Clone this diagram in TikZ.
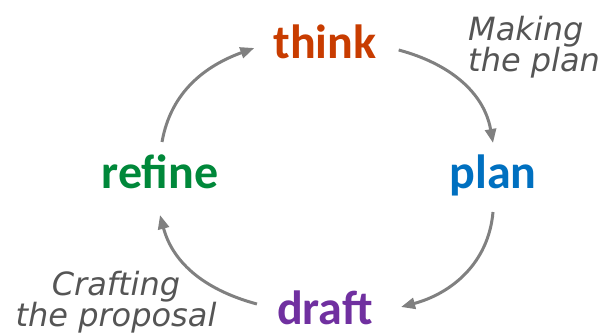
\documentclass[tikz,border=0pt]{standalone}
\usepackage{fontspec}
\setmainfont{Carlito}
\newfontfamily\notefont{DejaVu Sans}
\usetikzlibrary{arrows.meta}
\definecolor{thinkc}{HTML}{C83C00}
\definecolor{planc}{HTML}{0070C0}
\definecolor{draftc}{HTML}{7030A0}
\definecolor{refinec}{HTML}{00883A}
\definecolor{notec}{HTML}{555555}
\definecolor{cycc}{HTML}{808080}
\newcommand\tightlines{\lineskiplimit-100pt\relax}
\tikzset{
  stage/.style = {font=\fontsize{48}{48}\selectfont\bfseries, inner sep=0pt, anchor=base, text depth=0pt},
  note/.style = {font=\fontsize{32}{31}\selectfont\notefont\itshape\tightlines, text=notec, inner sep=0pt},
  cyc/.style = {draw=cycc, line width=3pt, -{Triangle[length=14pt,width=11pt]}},
}
\begin{document}
\begin{tikzpicture}[x=1pt,y=1pt]
\useasboundingbox (0,0) rectangle (609,335);
\node[stage,text=thinkc] (think) at (325,276) {think};
\node[stage,text=planc] (plan) at (493,147) {plan};
\node[stage,text=draftc] (draft) at (325,11) {draft};
\node[stage,text=refinec] (refine) at (160,147) {refine};
\node[note,align=left,anchor=north west] (making) at (468,319) {Making\\the plan};
\node[note,align=center,anchor=north] (crafting) at (116,64) {Crafting\\the proposal};
\draw[cyc] ([shift={(2pt,46pt)}]refine.base) to[out=80,in=200] ([shift={(-19pt,11pt)}]think.base west);
\draw[cyc] ([shift={(22pt,9pt)}]think.base east) to[out=-15,in=100] ([shift={(0pt,45pt)}]plan.base);
\draw[cyc] ([shift={(0pt,-24pt)}]plan.base) to[out=-95,in=15] ([shift={(28pt,17pt)}]draft.base east);
\draw[cyc] ([shift={(-20pt,20pt)}]draft.base west) to[out=165,in=-75] ([shift={(0pt,-27pt)}]refine.base);
\end{tikzpicture}
\end{document}
